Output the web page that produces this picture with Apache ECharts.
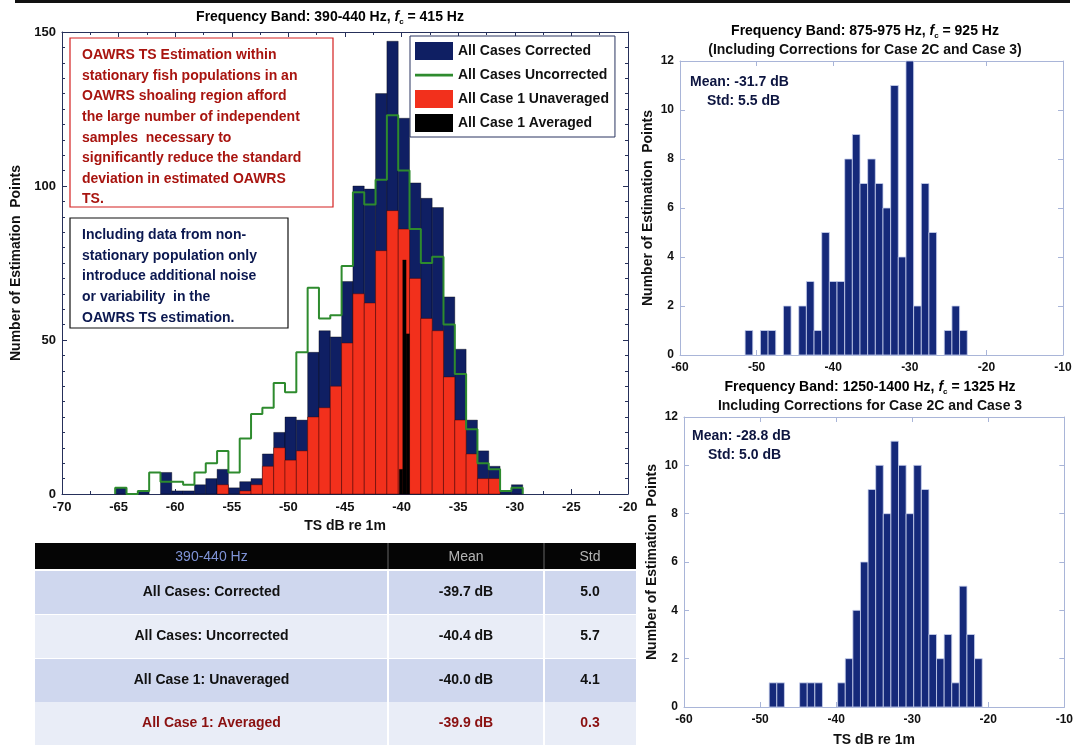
<!DOCTYPE html>
<html><head><meta charset="utf-8">
<script src="https://cdn.jsdelivr.net/npm/echarts@6/dist/echarts.min.js"></script>
<style>html,body{margin:0;padding:0;background:#fff}#c{width:1076px;height:751px}</style>
</head><body><div id="c"></div>
<script>
// ---------- DATA ----------
// Main histogram, 390-440 Hz, 1 dB bins (bin centres in dB)
const mainBinCenters = [-64.8,-63.8,-62.8,-61.8,-60.8,-59.8,-58.8,-57.8,-56.8,-55.8,-54.8,-53.8,-52.8,-51.8,-50.8,-49.8,-48.8,-47.8,-46.8,-45.8,-44.8,-43.8,-42.8,-41.8,-40.8,-39.8,-38.8,-37.8,-36.8,-35.8,-34.8,-33.8,-32.8,-31.8,-30.8,-29.8];
const correctedCounts   = [2,0,1,0,7,1,1,3,5,8,2,4,5,13,20,25,24,46,53,51,69,100,99,130,147,122,101,96,93,64,47,24,14,9,1,3];
const uncorrectedCounts = [2,0,1,7,4,4,3,7,10,14,7,18,26,28,36,33,46,67,57,58,74,98,94,102,123,105,86,75,77,55,39,21,10,8,1,2];
const case1UnavgCounts  = [0,0,0,0,0,0,0,0,0,3,0,1,3,9,15,11,14,25,28,35,49,65,62,79,92,86,70,57,53,38,24,13,5,5,0,0];
// Case 1 averaged: narrow bins
const case1AvgCenters = [-40.05,-39.75,-39.45];
const case1AvgCounts  = [8,76,52];
// 875-975 Hz histogram
const band925Centers = [-51,-49,-48,-46,-44,-43,-42,-41,-40,-39,-38,-37,-36,-35,-34,-33,-32,-31,-30,-29,-28,-27,-25,-24,-23];
const band925Counts  = [1,1,1,2,2,3,1,5,3,3,8,9,7,8,7,6,11,4,12,2,7,5,1,2,1];
// 1250-1400 Hz histogram
const band1325Centers = [-48.3,-47.3,-44.3,-43.3,-42.3,-39.3,-38.3,-37.3,-36.3,-35.3,-34.3,-33.3,-32.3,-31.3,-30.3,-29.3,-28.3,-27.3,-26.3,-25.3,-24.3,-23.3,-22.3,-21.3];
const band1325Counts  = [1,1,1,1,1,1,2,4,6,9,10,8,11,10,8,10,9,3,2,3,1,5,3,2];
// Series names
const seriesNames = ['All Cases Corrected','All Cases Uncorrected','All Case 1 Unaveraged','All Case 1 Averaged'];
// Table
const tableHeader = ['390-440 Hz','Mean','Std'];
const tableRows = [
  ['All Cases: Corrected','-39.7 dB','5.0'],
  ['All Cases: Uncorrected','-40.4 dB','5.7'],
  ['All Case 1: Unaveraged','-40.0 dB','4.1'],
  ['All Case 1: Averaged','-39.9 dB','0.3']
];
const stats925 = ['Mean: -31.7 dB','Std: 5.5 dB'];
const stats1325 = ['Mean: -28.8 dB','Std: 5.0 dB'];

// ---------- STYLE / BUILD ----------
const FONT = '"Liberation Sans", Arial, Helvetica, sans-serif';
const BLUE = '#0f1f63', RED = '#f2301c', GREEN = '#2e8b2e', BLACK = '#000000', SIDEBLUE = '#15297a';
const chart = echarts.init(document.getElementById('c'));

function histRender(width, fill, stroke, lw) {
  return function (params, api) {
    const c = api.value(0), n = api.value(1);
    if (!n) return { type: 'group', children: [] };
    const p0 = api.coord([c - width / 2, n]);
    const p1 = api.coord([c + width / 2, 0]);
    return { type: 'rect', shape: { x: p0[0], y: p0[1], width: p1[0] - p0[0], height: p1[1] - p0[1] },
      style: { fill: fill, stroke: stroke, lineWidth: lw } };
  };
}
function pairs(xs, ys) { return xs.map((x, i) => [x, ys[i]]); }

const stepData = [[mainBinCenters[0] - 0.5, 0]];
mainBinCenters.forEach((c, i) => stepData.push([c - 0.5, uncorrectedCounts[i]]));
const lastI = mainBinCenters.length - 1;
stepData.push([mainBinCenters[lastI] + 0.5, uncorrectedCounts[lastI]]);
stepData.push([mainBinCenters[lastI] + 0.5, 0]);

const lblMain = { fontFamily: FONT, fontWeight: 'bold', fontSize: 13, color: '#111' };
const lblSide = { fontFamily: FONT, fontWeight: 'bold', fontSize: 12, color: '#111' };
const nameStyle = { fontFamily: FONT, fontWeight: 'bold', fontSize: 14, color: '#111' };
const mainLine = { show: true, lineStyle: { color: '#26305a', width: 1 } };
const sideLine = { show: true, lineStyle: { color: '#a9b5d8', width: 1 } };

function xA(grid, min, max, interval, lineStyle, label, extra) {
  return Object.assign({ type: 'value', gridIndex: grid, min: min, max: max, interval: interval,
    splitLine: { show: false }, axisLine: Object.assign({ onZero: false }, lineStyle),
    axisTick: { show: true, inside: true, length: 5, lineStyle: { color: lineStyle.lineStyle.color } },
    axisLabel: label ? Object.assign({ margin: 7 }, label) : { show: false } }, extra || {});
}
function yA(grid, min, max, interval, lineStyle, label, extra) {
  return Object.assign({ type: 'value', gridIndex: grid, min: min, max: max, interval: interval,
    splitLine: { show: false }, axisLine: Object.assign({ onZero: false }, lineStyle),
    axisTick: { show: true, inside: true, length: 5, lineStyle: { color: lineStyle.lineStyle.color } },
    axisLabel: label ? Object.assign({ margin: 6 }, label) : { show: false } }, extra || {});
}

const option = {
  animation: false,
  backgroundColor: '#ffffff',
  grid: [
    { left: 62, top: 32, width: 566, height: 462 },
    { left: 680, top: 61, width: 383, height: 294 },
    { left: 684, top: 417, width: 381, height: 290 }
  ],
  xAxis: [
    xA(0, -70, -20, 5, mainLine, lblMain, { name: 'TS dB re 1m', nameLocation: 'middle', nameGap: 21, nameTextStyle: nameStyle,
      minorTick: { show: true, splitNumber: 2, length: 3, lineStyle: { color: '#26305a' } } }),
    xA(1, -60, -10, 10, sideLine, lblSide),
    xA(2, -60, -10, 10, sideLine, lblSide, { name: 'TS dB re 1m', nameLocation: 'middle', nameGap: 26, nameTextStyle: nameStyle }),
    xA(0, -70, -20, 5, mainLine, null, { position: 'top', minorTick: { show: true, splitNumber: 2, length: 3, lineStyle: { color: '#26305a' } } }),
    xA(1, -60, -10, 10, sideLine, null, { position: 'top' }),
    xA(2, -60, -10, 10, sideLine, null, { position: 'top' })
  ],
  yAxis: [
    yA(0, 0, 150, 50, mainLine, lblMain, { name: 'Number of Estimation  Points', nameLocation: 'middle', nameGap: 33, nameRotate: 90, nameTextStyle: nameStyle,
      minorTick: { show: true, splitNumber: 10, length: 3, lineStyle: { color: '#26305a' } } }),
    yA(1, 0, 12, 2, sideLine, lblSide, { name: 'Number of Estimation  Points', nameLocation: 'middle', nameGap: 25, nameRotate: 90, nameTextStyle: nameStyle }),
    yA(2, 0, 12, 2, sideLine, lblSide, { name: 'Number of Estimation  Points', nameLocation: 'middle', nameGap: 25, nameRotate: 90, nameTextStyle: nameStyle }),
    yA(0, 0, 150, 50, mainLine, null, { position: 'right', minorTick: { show: true, splitNumber: 10, length: 3, lineStyle: { color: '#26305a' } } }),
    yA(1, 0, 12, 2, sideLine, null, { position: 'right' }),
    yA(2, 0, 12, 2, sideLine, null, { position: 'right' })
  ],
  legend: {
    left: 410, top: 36, orient: 'vertical', selectedMode: false,
    backgroundColor: '#ffffff', borderColor: '#2a3560', borderWidth: 1,
    padding: [6, 6, 5, 5], itemWidth: 38, itemHeight: 18, itemGap: 6,
    textStyle: { fontFamily: FONT, fontWeight: 'bold', fontSize: 14, color: '#111' },
    data: [
      { name: seriesNames[0], icon: 'rect' },
      { name: seriesNames[1], icon: 'path://M0,0L0.05,0L0.05,0.05Z M0,7.8L38,7.8L38,10.4L0,10.4Z M37.95,17.95L38,17.95L38,18Z' },
      { name: seriesNames[2], icon: 'rect' },
      { name: seriesNames[3], icon: 'rect' }
    ]
  },
  series: [
    { name: seriesNames[0], type: 'custom', xAxisIndex: 0, yAxisIndex: 0, z: 2, itemStyle: { color: BLUE },
      encode: { x: 0, y: 1 }, renderItem: histRender(1, BLUE, 'rgba(0,0,0,0.6)', 0.6), data: pairs(mainBinCenters, correctedCounts) },
    { name: seriesNames[2], type: 'custom', xAxisIndex: 0, yAxisIndex: 0, z: 3, itemStyle: { color: RED },
      encode: { x: 0, y: 1 }, renderItem: histRender(1, RED, 'rgba(60,0,0,0.7)', 0.6), data: pairs(mainBinCenters, case1UnavgCounts) },
    { name: seriesNames[1], type: 'line', xAxisIndex: 0, yAxisIndex: 0, z: 4, step: 'end', symbol: 'none',
      itemStyle: { color: GREEN }, lineStyle: { color: GREEN, width: 2 }, data: stepData },
    { name: seriesNames[3], type: 'custom', xAxisIndex: 0, yAxisIndex: 0, z: 5, itemStyle: { color: BLACK },
      encode: { x: 0, y: 1 }, renderItem: histRender(0.3, BLACK, BLACK, 0.3), data: pairs(case1AvgCenters, case1AvgCounts) },
    { name: '875-975 Hz', type: 'custom', xAxisIndex: 1, yAxisIndex: 1, z: 2, itemStyle: { color: SIDEBLUE },
      encode: { x: 0, y: 1 }, renderItem: histRender(1, SIDEBLUE, '#c9d2ee', 0.8), data: pairs(band925Centers, band925Counts) },
    { name: '1250-1400 Hz', type: 'custom', xAxisIndex: 2, yAxisIndex: 2, z: 2, itemStyle: { color: SIDEBLUE },
      encode: { x: 0, y: 1 }, renderItem: histRender(1, SIDEBLUE, '#c9d2ee', 0.8), data: pairs(band1325Centers, band1325Counts) }
  ],
  graphic: []
};

const rich = {
  n: { fontFamily: FONT, fontWeight: 'bold', fontSize: 14, color: '#111', lineHeight: 18 },
  i: { fontFamily: FONT, fontWeight: 'bold', fontStyle: 'italic', fontSize: 14, color: '#111', lineHeight: 18 },
  s: { fontFamily: FONT, fontWeight: 'bold', fontSize: 8, color: '#111', lineHeight: 18, verticalAlign: 'bottom', padding: [6, 0, 0, 0] }
};
function titleText(x, y, txt) {
  return { type: 'text', x: x, y: y, z: 100, style: { text: txt, rich: rich, align: 'center', verticalAlign: 'middle' } };
}
function plainText(x, y, txt, opts) {
  return { type: 'text', x: x, y: y, z: 100, style: Object.assign({ text: txt, fontFamily: FONT, fontWeight: 'bold', fontSize: 14,
    fill: '#111', align: 'center', verticalAlign: 'middle' }, opts || {}) };
}
const G = option.graphic;
// top rule
G.push({ type: 'rect', z: 100, shape: { x: 15, y: 0, width: 1055, height: 3 }, style: { fill: '#111' } });
// titles
G.push(titleText(330, 17, '{n|Frequency Band: 390-440 Hz, }{i|f}{s|c}{n| = 415 Hz}'));
G.push(titleText(865, 31, '{n|Frequency Band: 875-975 Hz, }{i|f}{s|c}{n| = 925 Hz}'));
G.push(plainText(865, 50, '(Including Corrections for Case 2C and Case 3)'));
G.push(titleText(870, 387, '{n|Frequency Band: 1250-1400 Hz, }{i|f}{s|c}{n| = 1325 Hz}'));
G.push(plainText(870, 406, 'Including Corrections for Case 2C and Case 3'));
// stats
G.push(plainText(690, 82, stats925[0], { align: 'left', fill: '#0d1540' }));
G.push(plainText(707, 101, stats925[1], { align: 'left', fill: '#0d1540' }));
G.push(plainText(692, 436, stats1325[0], { align: 'left', fill: '#0d1540' }));
G.push(plainText(708, 455, stats1325[1], { align: 'left', fill: '#0d1540' }));
// annotation boxes
G.push({ type: 'rect', z: 99, shape: { x: 70, y: 38, width: 263, height: 169 }, style: { fill: '#fff', stroke: '#d42020', lineWidth: 1.2 } });
G.push({ type: 'text', z: 100, x: 82, y: 45, style: { text: 'OAWRS TS Estimation within\nstationary fish populations in an\nOAWRS shoaling region afford\nthe large number of independent\nsamples  necessary to\nsignificantly reduce the standard\ndeviation in estimated OAWRS\nTS.',
  fontFamily: FONT, fontWeight: 'bold', fontSize: 14, lineHeight: 20.6, fill: '#a8140f', align: 'left', verticalAlign: 'top' } });
G.push({ type: 'rect', z: 99, shape: { x: 70, y: 218, width: 218, height: 110 }, style: { fill: '#fff', stroke: '#111', lineWidth: 1.2 } });
G.push({ type: 'text', z: 100, x: 82, y: 225, style: { text: 'Including data from non-\nstationary population only\nintroduce additional noise\nor variability  in the\nOAWRS TS estimation.',
  fontFamily: FONT, fontWeight: 'bold', fontSize: 14, lineHeight: 20.6, fill: '#0b1850', align: 'left', verticalAlign: 'top' } });
// table
const colEdges = [35, 388, 544, 636];
const rowTops = [571, 615, 659, 702];
const rowH = 43;
G.push({ type: 'rect', z: 100, shape: { x: 35, y: 543, width: 601, height: 26 }, style: { fill: '#050505' } });
[388, 544].forEach(x => G.push({ type: 'rect', z: 101, shape: { x: x - 0.5, y: 543, width: 1, height: 26 }, style: { fill: '#666' } }));
const headColors = ['#7f93d6', '#b4b4b4', '#b4b4b4'];
tableHeader.forEach((h, j) => G.push(plainText((colEdges[j] + colEdges[j + 1]) / 2, 557, h, { fontWeight: 'normal', fill: headColors[j] })));
tableRows.forEach((row, r) => {
  G.push({ type: 'rect', z: 100, shape: { x: 35, y: rowTops[r], width: 601, height: rowH }, style: { fill: r % 2 === 0 ? '#cfd7ee' : '#e9edf7' } });
  [388, 544].forEach(x => G.push({ type: 'rect', z: 101, shape: { x: x - 1, y: rowTops[r], width: 2, height: rowH }, style: { fill: '#ffffff' } }));
  const col = r === 3 ? '#8a1010' : '#111';
  row.forEach((t, j) => G.push(plainText((colEdges[j] + colEdges[j + 1]) / 2, rowTops[r] + rowH / 2, t, { fill: (j === 2 && r === 3) ? '#8a1010' : col })));
});

chart.setOption(option);
</script></body></html>
